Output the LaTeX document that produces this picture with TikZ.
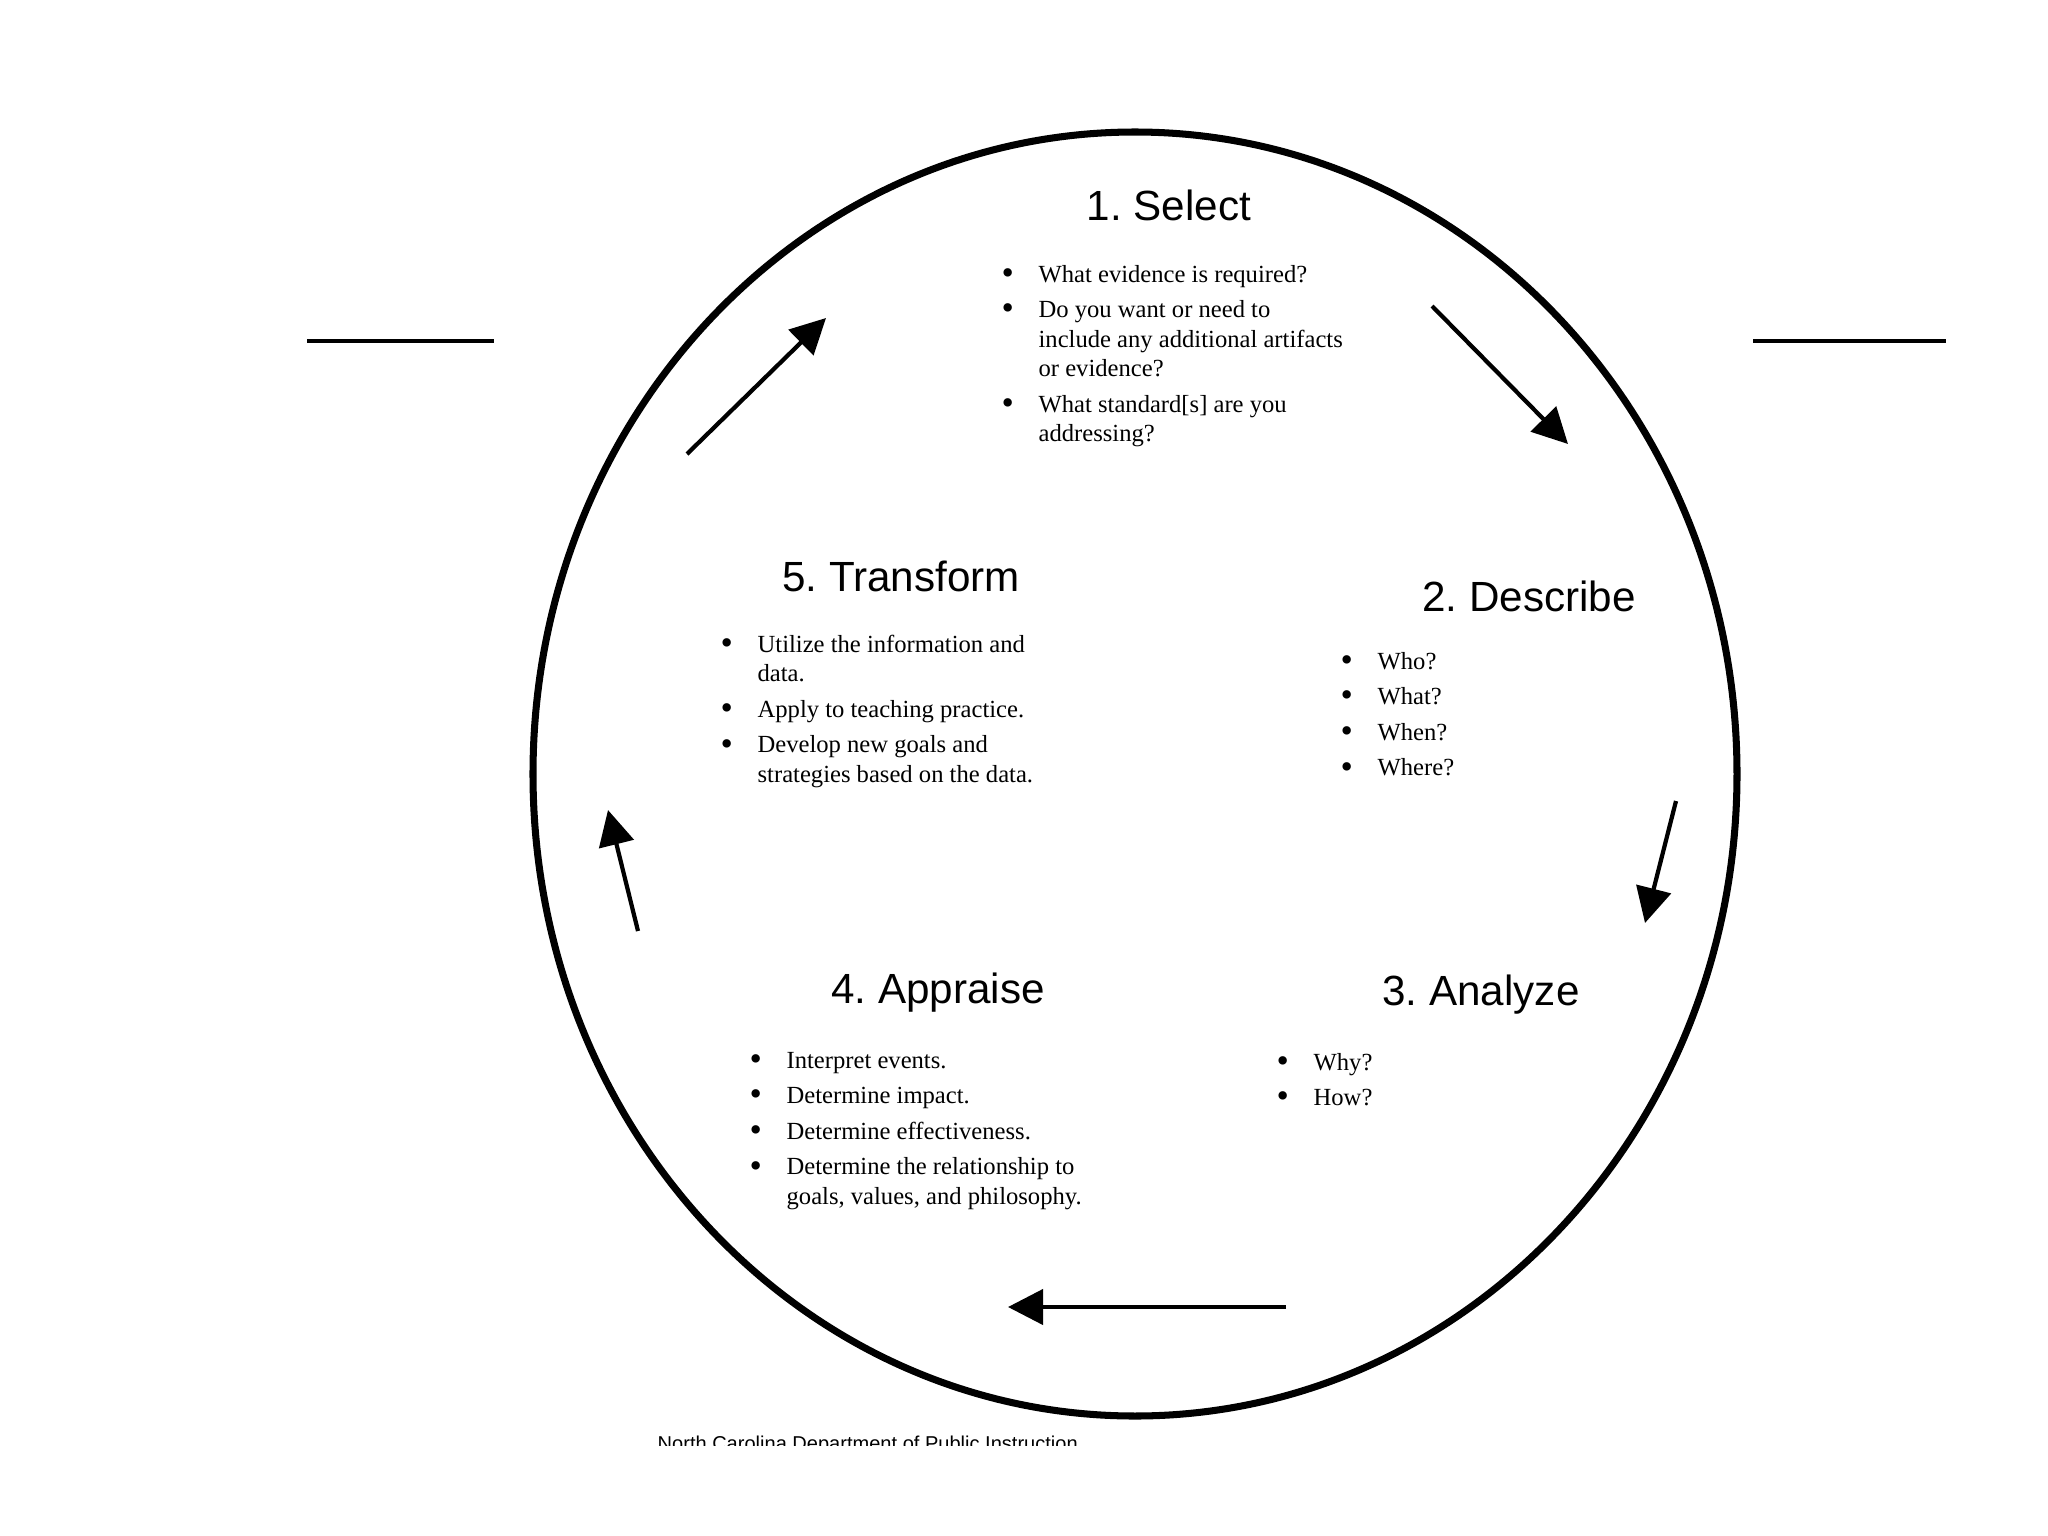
\documentclass[tikz,border=0pt]{standalone}
\usepackage{fontspec}
\setmainfont{Liberation Serif}
\setsansfont{Liberation Sans}
\usepackage{tikz}
\usetikzlibrary{arrows.meta}
\frenchspacing

\newcommand{\dotmark}{\raisebox{-0.7pt}{\fontsize{10}{8}\selectfont\textbullet}}
\newcommand{\stepitems}[1]{{\fontsize{7}{8.4}\selectfont\begin{tabular}[t]{@{}c@{\hspace{7pt}}l@{}}#1\end{tabular}}}

\begin{document}
\begin{tikzpicture}[x=0.01cm,y=-0.01cm,
		heading/.style={font=\sffamily\fontsize{12}{14}\selectfont},
		items/.style={anchor=base west,inner sep=0pt},
		flow/.style={line width=1.2pt,-{Triangle[length=10pt,width=10pt]}}]
		\useasboundingbox (0,0) rectangle (2048,1536);
		
		% the cycle and the two rules beside it
		\draw[line width=2pt] (1135,774) ellipse [x radius=602, y radius=642];
		\draw[line width=1pt] (307,341) -- (494,341);
		\draw[line width=1pt] (1753,341) -- (1946,341);
		
		% the five steps
		\node[heading] (select) at (1169,205) {1. Select};
		\node[heading] (describe) at (1529,596) {2. Describe};
		\node[heading] (analyze) at (1481,995) {3. Analyze};
		\node[heading] (appraise) at (938,993) {4. Appraise};
		\node[heading] (transform) at (901,576) {5. Transform};
		
		\node[items] (selectlist) at (1001,282) {\stepitems{
				\dotmark & What evidence is required?\\[1.7pt]
				\dotmark & Do you want or need to\\
				& include any additional artifacts\\
				& or evidence?\\[1.7pt]
				\dotmark & What standard[s] are you\\
				& addressing?}};
		\node[items] (describelist) at (1340,669) {\stepitems{
				\dotmark & Who?\\[1.7pt]
				\dotmark & What?\\[1.7pt]
				\dotmark & When?\\[1.7pt]
				\dotmark & Where?}};
		\node[items] (analyzelist) at (1276,1070) {\stepitems{
				\dotmark & Why?\\[1.7pt]
				\dotmark & How?}};
		\node[items] (appraiselist) at (749,1068) {\stepitems{
				\dotmark & Interpret events.\\[1.7pt]
				\dotmark & Determine impact.\\[1.7pt]
				\dotmark & Determine effectiveness.\\[1.7pt]
				\dotmark & Determine the relationship to\\
				& goals, values, and philosophy.}};
		\node[items] (transformlist) at (720,652) {\stepitems{
				\dotmark & Utilize the information and\\
				& data.\\[1.7pt]
				\dotmark & Apply to teaching practice.\\[1.7pt]
				\dotmark & Develop new goals and\\
				& strategies based on the data.}};
		
		% arrows round the cycle
		\coordinate (a1) at (687,454);  \coordinate (b1) at (826,318);
		\coordinate (a2) at (1432,306); \coordinate (b2) at (1568,444);
		\coordinate (a3) at (1676,801); \coordinate (b3) at (1645,923);
		\coordinate (a4) at (1286,1307); \coordinate (b4) at (1008,1307);
		\coordinate (a5) at (638,931);  \coordinate (b5) at (608,810);
		\foreach \i in {1,...,5}
		\draw[flow] (a\i) -- (b\i);
		
		% footer, cut off by the page
		\begin{scope}
			\clip (600,1400) rectangle (1150,1445);
			\node[font=\sffamily\fontsize{5.7}{6.5}\selectfont,anchor=base west,inner sep=0pt] (footer) at (657,1450) {North Carolina Department of Public Instruction};
		\end{scope}
	\end{tikzpicture}
\end{document}
